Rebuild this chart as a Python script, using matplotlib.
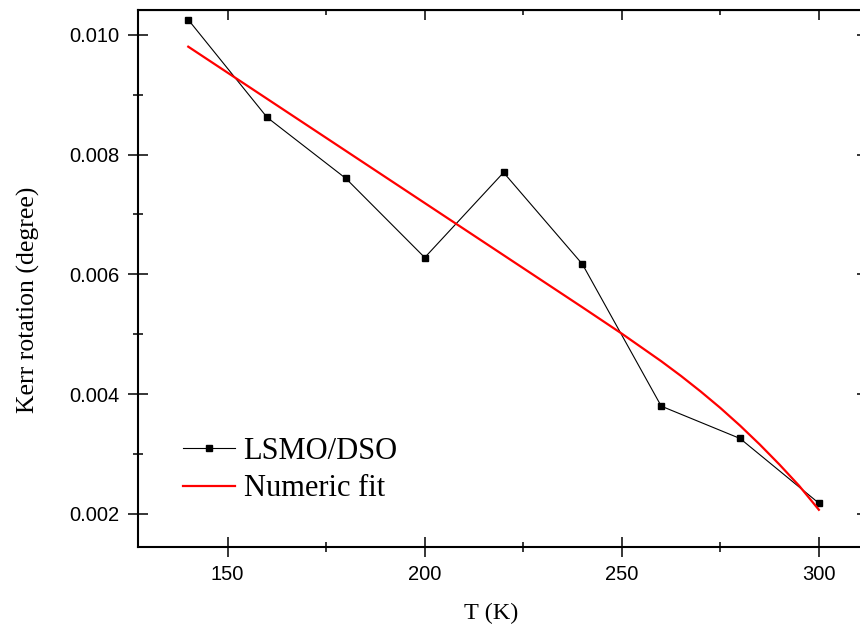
import matplotlib
matplotlib.use("Agg")
import matplotlib.pyplot as plt
from matplotlib.ticker import MultipleLocator, FormatStrFormatter

# measured Kerr rotation vs temperature
temps = [140, 160, 180, 200, 220, 240, 260, 280, 300]
kerr = [0.01025, 0.00862, 0.00760, 0.00628, 0.00770, 0.00617, 0.00380, 0.00326, 0.00218]

# numeric fit curve
fit_temps = [140, 150, 160, 170, 180, 190, 200, 210, 220, 230, 240, 250,
             260, 265, 270, 275, 280, 285, 290, 295, 300]
fit_kerr = [0.00980, 0.009365, 0.00893, 0.008495, 0.00806, 0.007625, 0.00719, 0.006755,
            0.00632, 0.005885, 0.00545, 0.00501, 0.00455, 0.004305, 0.004045, 0.00377,
            0.003475, 0.00316, 0.002825, 0.00247, 0.00207]

sans = "Liberation Sans"
serif = "Liberation Serif"

fig = plt.figure(figsize=(8.6, 6.26), dpi=100)
ax = fig.add_axes([0.1601, 0.1267, 0.848, 0.8573])

ax.plot(temps, kerr, color="black", lw=0.8, marker="s", ms=4.8, label="LSMO/DSO")
ax.plot(fit_temps, fit_kerr, color="red", lw=1.6, label="Numeric fit")

ax.set_xlim(127.17, 312.2)
ax.set_ylim(0.001454, 0.010412)

ax.xaxis.set_major_locator(MultipleLocator(50))
ax.xaxis.set_minor_locator(MultipleLocator(25))
ax.yaxis.set_major_locator(MultipleLocator(0.002))
ax.yaxis.set_minor_locator(MultipleLocator(0.001))
ax.yaxis.set_major_formatter(FormatStrFormatter("%.3f"))

ax.tick_params(which="major", direction="inout", length=14.4, width=1.1, pad=6,
               labelsize=14.5)
ax.tick_params(which="minor", direction="inout", length=7.2, width=1.1)
for lab in ax.get_xticklabels() + ax.get_yticklabels():
    lab.set_fontfamily(sans)

for s in ax.spines.values():
    s.set_linewidth(1.5)

# inward ticks on the top and right edges
top = ax.secondary_xaxis("top")
top.xaxis.set_major_locator(MultipleLocator(50))
top.xaxis.set_minor_locator(MultipleLocator(25))
top.tick_params(which="major", direction="in", length=7.2, width=1.1, labeltop=False)
top.tick_params(which="minor", direction="in", length=3.6, width=1.1)
right = ax.secondary_yaxis("right")
right.yaxis.set_major_locator(MultipleLocator(0.002))
right.yaxis.set_minor_locator(MultipleLocator(0.001))
right.tick_params(which="major", direction="in", length=7.2, width=1.1, labelright=False)
right.tick_params(which="minor", direction="in", length=3.6, width=1.1)

ax.set_xlabel("T (K)", fontfamily=serif, fontsize=17.5)
ax.xaxis.set_label_coords(0.485, -0.105)
ax.set_ylabel("Kerr rotation (degree)", fontfamily=serif, fontsize=18.5)
ax.yaxis.set_label_coords(-0.134, 0.46)

ax.legend(loc="center left", bbox_to_anchor=(183 / 860, 1 - 470 / 626),
          bbox_transform=fig.transFigure, frameon=False,
          prop={"family": serif, "size": 22}, handlelength=1.7,
          handletextpad=0.28, labelspacing=0.28, borderpad=0, borderaxespad=0)

fig.savefig("out.png", dpi=100)
